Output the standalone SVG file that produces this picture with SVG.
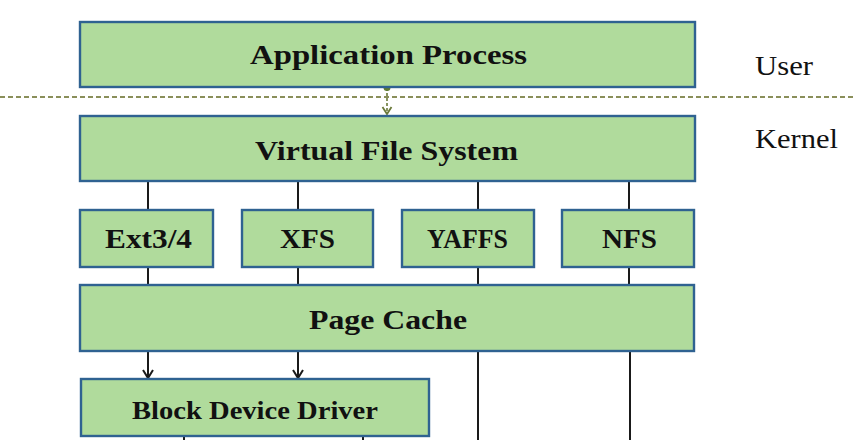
<svg xmlns="http://www.w3.org/2000/svg" width="856" height="440" viewBox="0 0 856 440">
<style>
.box{fill:#b0db9c;stroke:#2f6291;stroke-width:2.4}
.t{font-family:"Liberation Serif","Times New Roman",serif;font-weight:bold;fill:#111;text-anchor:start}
.lbl{font-family:"Liberation Serif","Times New Roman",serif;fill:#111}
.c{stroke:#1a1a1a;stroke-width:2;fill:none}
</style>
<defs>
<marker id="ah" markerWidth="12" markerHeight="12" refX="9" refY="6" orient="auto" markerUnits="userSpaceOnUse" viewBox="0 0 12 12">
<path d="M1,1 L9,6 L1,11" fill="none" stroke="#1a1a1a" stroke-width="2"/>
</marker>
<marker id="ah2" markerWidth="12" markerHeight="12" refX="9" refY="6" orient="auto" markerUnits="userSpaceOnUse" viewBox="0 0 12 12">
<path d="M2,1.5 L9,6 L2,10.5" fill="none" stroke="#6b7a3a" stroke-width="1.8"/>
</marker>
</defs>
<rect width="856" height="440" fill="#ffffff"/>
<g id="connectors">
<line x1="0" y1="97" x2="856" y2="97" stroke="#8a8f5a" stroke-width="2.2" stroke-dasharray="5,3"/>
<line x1="387" y1="88" x2="387" y2="114" stroke="#6b7a3a" stroke-width="1.6" stroke-dasharray="3,2" marker-end="url(#ah2)"/>
<circle cx="387" cy="87.5" r="3.5" fill="#5f7a30"/>
<line class="c" x1="148" y1="181" x2="148" y2="210"/>
<line class="c" x1="298" y1="181" x2="298" y2="210"/>
<line class="c" x1="478" y1="181" x2="478" y2="210"/>
<line class="c" x1="629" y1="181" x2="629" y2="210"/>
<line class="c" x1="148" y1="267" x2="148" y2="285"/>
<line class="c" x1="298" y1="267" x2="298" y2="285"/>
<line class="c" x1="478" y1="267" x2="478" y2="285"/>
<line class="c" x1="629" y1="267" x2="629" y2="285"/>
<line class="c" x1="148" y1="351" x2="148" y2="378" marker-end="url(#ah)"/>
<line class="c" x1="298" y1="351" x2="298" y2="378" marker-end="url(#ah)"/>
<line class="c" x1="478" y1="351" x2="478" y2="440"/>
<line class="c" x1="630" y1="351" x2="630" y2="440"/>
<line class="c" x1="184" y1="436" x2="184" y2="440"/>
<line class="c" x1="363" y1="436" x2="363" y2="440"/>
</g>
<g id="app">
<rect class="box" x="80" y="22" width="615" height="65"/>
<text class="t" x="250" y="64" font-size="28" textLength="277" lengthAdjust="spacingAndGlyphs">Application Process</text>
</g>
<g id="vfs">
<rect class="box" x="80" y="116" width="615" height="65"/>
<text class="t" x="255" y="160" font-size="28" textLength="263" lengthAdjust="spacingAndGlyphs">Virtual File System</text>
</g>
<g id="ext">
<rect class="box" x="80" y="210" width="133" height="57"/>
<text class="t" x="105" y="248" font-size="27" textLength="87" lengthAdjust="spacingAndGlyphs">Ext3/4</text>
</g>
<g id="xfs">
<rect class="box" x="242" y="210" width="131" height="57"/>
<text class="t" x="280" y="248" font-size="27" textLength="55" lengthAdjust="spacingAndGlyphs">XFS</text>
</g>
<g id="yaffs">
<rect class="box" x="402" y="210" width="132" height="57"/>
<text class="t" x="427" y="248" font-size="27" textLength="81" lengthAdjust="spacingAndGlyphs">YAFFS</text>
</g>
<g id="nfs">
<rect class="box" x="562" y="210" width="132" height="57"/>
<text class="t" x="602" y="248" font-size="27" textLength="55" lengthAdjust="spacingAndGlyphs">NFS</text>
</g>
<g id="pagecache">
<rect class="box" x="80" y="285" width="614" height="66"/>
<text class="t" x="309" y="329" font-size="28" textLength="158" lengthAdjust="spacingAndGlyphs">Page Cache</text>
</g>
<g id="bdd">
<rect class="box" x="81" y="379" width="348" height="57"/>
<text class="t" x="132" y="419" font-size="26" textLength="246" lengthAdjust="spacingAndGlyphs">Block Device Driver</text>
</g>
<g id="labels">
<text class="lbl" x="755" y="75" font-size="27" textLength="58" lengthAdjust="spacingAndGlyphs">User</text>
<text class="lbl" x="755" y="148" font-size="27" textLength="83" lengthAdjust="spacingAndGlyphs">Kernel</text>
</g>
</svg>
